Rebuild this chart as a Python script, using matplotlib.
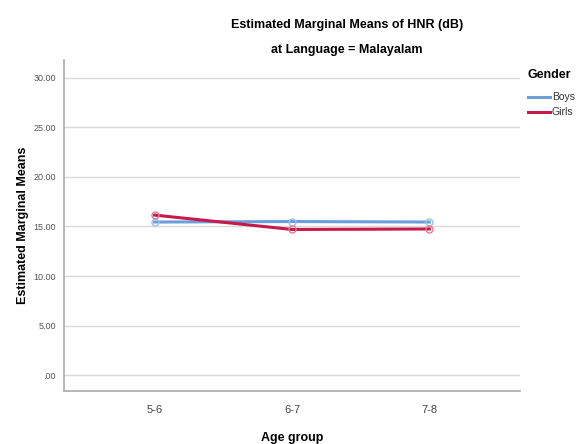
import matplotlib
matplotlib.use("Agg")
import matplotlib.pyplot as plt
from matplotlib.lines import Line2D

plt.rcParams["font.family"] = ["Liberation Sans", "DejaVu Sans"]

age_groups = ["5-6", "6-7", "7-8"]
boys = [15.45, 15.5, 15.45]
girls = [16.15, 14.7, 14.75]
y_ticks = [0, 5, 10, 15, 20, 25, 30]
y_tick_labels = [".00", "5.00", "10.00", "15.00", "20.00", "25.00", "30.00"]
legend_labels = ["Boys", "Girls"]

BOYS_C = "#6a9fdc"
GIRLS_C = "#c8194a"
W, H = 577, 444

fig = plt.figure(figsize=(5.77, 4.44), dpi=100)
ax = fig.add_axes([64 / W, 1 - 391 / H, (520 - 64) / W, (391 - 60) / H])

x = list(range(len(age_groups)))
ax.plot(x, boys, color=BOYS_C, lw=2.2, marker="o", ms=5, mfc="none",
        mec="#9cc0ea", mew=1, zorder=3)
ax.plot(x, girls, color=GIRLS_C, lw=2.2, marker="o", ms=5, mfc="none",
        mec="#e07c96", mew=1, zorder=4)

ax.set_xlim(-0.66, 2.66)
ax.set_ylim(-1.6, 31.8)
ax.set_xticks(x)
ax.set_xticklabels(age_groups, fontsize=8, color="#444444")
ax.set_yticks(y_ticks)
ax.set_yticklabels(y_tick_labels, fontsize=6.5, color="#555555")
ax.tick_params(length=0, pad=6)
ax.tick_params(axis="x", pad=10)
ax.grid(axis="y", color="#d9d9d9", lw=1)
ax.set_axisbelow(True)
for s in ["top", "right"]:
    ax.spines[s].set_visible(False)
for s in ["left", "bottom"]:
    ax.spines[s].set_color("#aaaaaa")
    ax.spines[s].set_linewidth(1.2)

ax.set_xlabel("Age group", fontsize=9, fontweight="bold", labelpad=12)
ax.set_ylabel("Estimated Marginal Means", fontsize=9, fontweight="bold", labelpad=3)

fig.text(347 / W, 1 - 25 / H, "Estimated Marginal Means of HNR (dB)",
         ha="center", va="center", fontsize=9, fontweight="bold")
fig.text(347 / W, 1 - 50 / H, "at Language = Malayalam",
         ha="center", va="center", fontsize=9, fontweight="bold")

# legend drawn by hand to match placement
fig.text(528 / W, 1 - 75 / H, "Gender", ha="left", va="center",
         fontsize=9, fontweight="bold")
for i, (lab, c) in enumerate(zip(legend_labels, [BOYS_C, GIRLS_C])):
    yy = 1 - (97 + i * 15) / H
    fig.add_artist(Line2D([528 / W, 550 / W], [yy, yy], color=c, lw=2.2,
                          transform=fig.transFigure))
    fig.text(552 / W, yy, lab, ha="left", va="center", fontsize=7.5,
             color="#333333")

fig.savefig("out.png", dpi=100)
